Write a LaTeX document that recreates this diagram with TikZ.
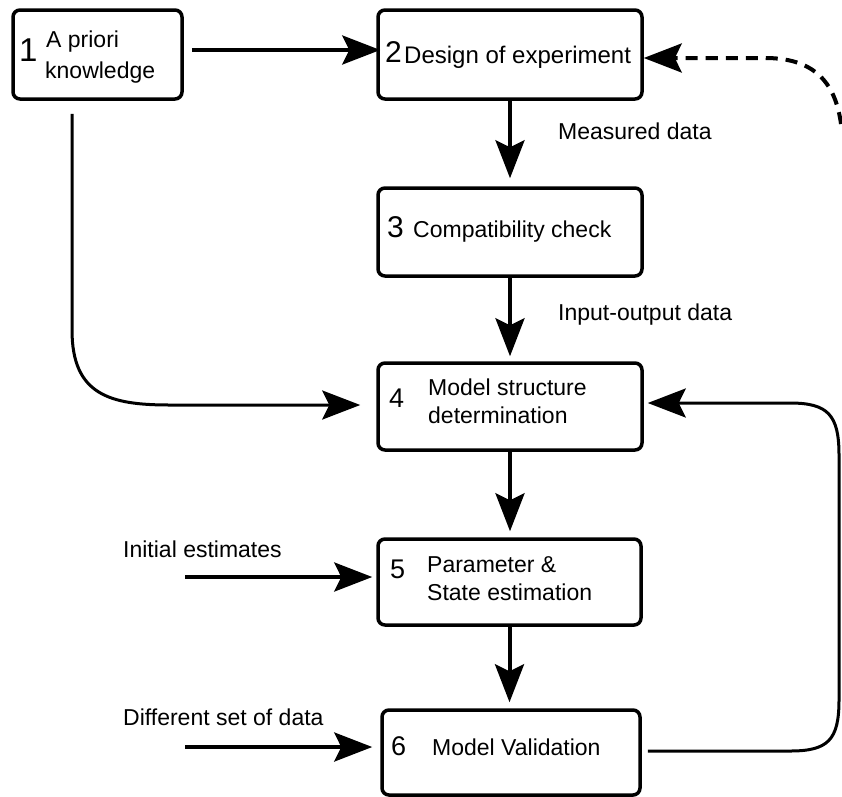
\documentclass[tikz,border=0pt]{standalone}
\usepackage{fontspec}
\setmainfont{Liberation Sans}
\usetikzlibrary{arrows.meta,calc}
\tikzset{
  box/.style={draw, rounded corners=7pt, line width=3.5pt, inner sep=0pt},
  lbl/.style={font=\fontsize{23}{28}\selectfont, anchor=base west, inner sep=0pt},
  bignum/.style={font=\fontsize{33}{36}\selectfont, anchor=base west, inner sep=0pt},
  numthirty/.style={font=\fontsize{30}{34}\selectfont, anchor=base west, inner sep=0pt},
  midnum/.style={font=\fontsize{27}{30}\selectfont, anchor=base west, inner sep=0pt},
  conn/.style={line width=4pt, -{Stealth[length=38pt,width=29pt,inset=7pt]}},
  thinconn/.style={line width=3pt, -{Stealth[length=38pt,width=29pt,inset=7pt]}},
  dashconn/.style={line width=4pt, dash pattern=on 12pt off 8pt, -{Stealth[length=38pt,width=29pt,inset=7pt]}}
}
\begin{document}
\begin{tikzpicture}[x=1pt,y=-1pt]
\useasboundingbox (0,0) rectangle (842,796);
% boxes
\node[box, minimum width=169pt, minimum height=89pt] (b1) at (97.5,54.5) {};
\node[box, minimum width=264pt, minimum height=89pt] (b2) at (510,54.5) {};
\node[box, minimum width=264pt, minimum height=88pt] (b3) at (510,232) {};
\node[box, minimum width=264pt, minimum height=87pt] (b4) at (510,406.5) {};
\node[box, minimum width=263pt, minimum height=86pt] (b5) at (509.5,582) {};
\node[box, minimum width=258pt, minimum height=85pt] (b6) at (511,752.5) {};
% box texts
\node[bignum] (n1) at (19,61) {1};
\node[lbl] (t1a) at (46,47) {A priori};
\node[lbl] (t1b) at (45,78) {knowledge};
\node[numthirty] (n2) at (385,62) {2};
\node[lbl, font=\fontsize{24}{28}\selectfont] (t2) at (404,63) {Design of experiment};
\node[numthirty] (n3) at (387,237) {3};
\node[lbl] (t3) at (413,237) {Compatibility check};
\node[midnum] (n4) at (389,407) {4};
\node[lbl] (t4a) at (428,395) {Model structure};
\node[lbl] (t4b) at (428,423) {determination};
\node[midnum] (n5) at (390,578) {5};
\node[lbl] (t5a) at (427,572) {Parameter \&};
\node[lbl] (t5b) at (427,600) {State estimation};
\node[midnum] (n6) at (391,755) {6};
\node[lbl] (t6) at (432,755) {Model Validation};
% side labels
\node[lbl] (m1) at (558,139) {Measured data};
\node[lbl] (m2) at (558,320) {Input-output data};
\node[lbl] (m3) at (123,557) {Initial estimates};
\node[lbl] (m4) at (123,725) {Different set of data};
% free ends
\coordinate (ie) at (185,577);
\coordinate (de) at (185,747);
\coordinate (ds) at (841,124);
% connectors
\draw[conn] ($(b1.east)+(8,-4.5)$) -- ($(b2.west)+(4,-4.5)$);
\draw[conn] (b2.south) -- ($(b3.north)+(0,-8)$);
\draw[conn] (b3.south) -- ($(b4.north)+(0,-5)$);
\draw[conn] (b4.south) -- ($(b4.south |- b5.north)+(0,-6)$);
\draw[conn] (b5.south) -- ($(b5.south |- b6.north)+(0,-6)$);
\draw[conn] (ie) -- ($(b5.west)+(-4,-5)$);
\draw[conn] (de) -- ($(b6.west)+(-8,-5.5)$);
\draw[thinconn] ($(b1.south)+(-25.5,13)$) -- (72,330) .. controls (72,395) and (110,405) .. (170,405) -- ($(b4.west)+(-16,-1.5)$);
\draw[thinconn] ($(b6.east)+(6,-1.5)$) -- (790,751) .. controls (828,751) and (839,740) .. (839,700) -- (839,455) .. controls (839,415) and (828,403) .. (790,403) -- ($(b4.east)+(4,-3.5)$);
\draw[dashconn] (ds) .. controls (835,80) and (812,58) .. (765,58) -- ($(b2.east)+(0,3.5)$);
\end{tikzpicture}
\end{document}
